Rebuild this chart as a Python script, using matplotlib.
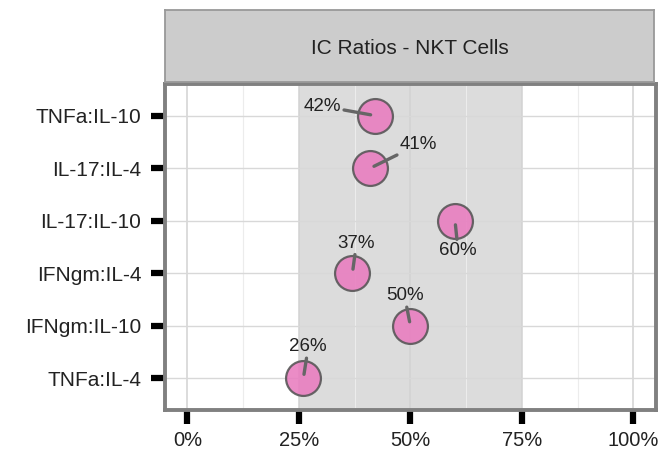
import matplotlib.pyplot as plt
import matplotlib.ticker as mtick
import numpy as np

plt.rcParams['font.family'] = ['Liberation Sans', 'DejaVu Sans']

# data
ratios = ['TNFa:IL-4', 'IFNgm:IL-10', 'IFNgm:IL-4', 'IL-17:IL-10', 'IL-17:IL-4', 'TNFa:IL-10']
values = [0.26, 0.50, 0.37, 0.60, 0.41, 0.42]
# where the repelled labels sit, relative to the point (data units)
label_dx = [0.011, -0.013, 0.009, 0.007, 0.108, -0.117]
label_dy = [0.60, 0.57, 0.57, -0.57, 0.45, 0.18]

fig = plt.figure(figsize=(6.63, 4.68), dpi=100)
ax = fig.add_axes([0.249, 0.124, 0.74, 0.6965])

ypos = np.arange(1, len(ratios) + 1)
ax.set_xlim(-0.05, 1.05)
ax.set_ylim(0.4, 6.6)

# shaded band 25%-75%
ax.axvspan(0.25, 0.75, color='#dcdcdc', zorder=0, lw=0)

# grid
for x in [0, 0.25, 0.5, 0.75, 1.0]:
    ax.axvline(x, color='#d2d2d2', lw=1.1, zorder=1)
for x in [0.125, 0.375, 0.625, 0.875]:
    ax.axvline(x, color='#ececec', lw=0.8, zorder=1)
for y in ypos:
    ax.axhline(y, color='#d8d8d8', lw=1.0, zorder=1)

ax.scatter(values, ypos, s=630, color='#e97cbf', edgecolor='#555555',
           linewidth=1.6, alpha=0.88, zorder=3)

# labels with short segments
for y, v, dx, dy in zip(ypos, values, label_dx, label_dy):
    ax.annotate(f'{round(v * 100)}%', xy=(v, y), xytext=(v + dx, y + dy),
                ha='center', va='center', fontsize=13.5, color='#222222',
                arrowprops=dict(arrowstyle='-', color='#666666', lw=2.4,
                                shrinkA=0, shrinkB=3),
                zorder=5)

ax.set_yticks(ypos)
ax.set_yticklabels(ratios, fontsize=15, color='#222222')
ax.set_xticks([0, 0.25, 0.5, 0.75, 1.0])
ax.xaxis.set_major_formatter(mtick.PercentFormatter(1.0, decimals=0))
ax.tick_params(axis='x', labelsize=14.5, labelcolor='#222222', pad=5)
ax.tick_params(axis='y', pad=7)
ax.tick_params(length=10, width=4.5, color='black')

for s in ax.spines.values():
    s.set_color('#808080')
    s.set_linewidth(2.8)

# facet strip
sax = fig.add_axes([0.249, 0.825, 0.737, 0.154])
sax.set_facecolor('#cccccc')
sax.set_xticks([])
sax.set_yticks([])
for s in sax.spines.values():
    s.set_color('#999999')
    s.set_linewidth(1.3)
sax.text(0.5, 0.47, 'IC Ratios - NKT Cells', ha='center', va='center',
         fontsize=15, color='#222222', transform=sax.transAxes)

fig.savefig('out.png', dpi=100)
